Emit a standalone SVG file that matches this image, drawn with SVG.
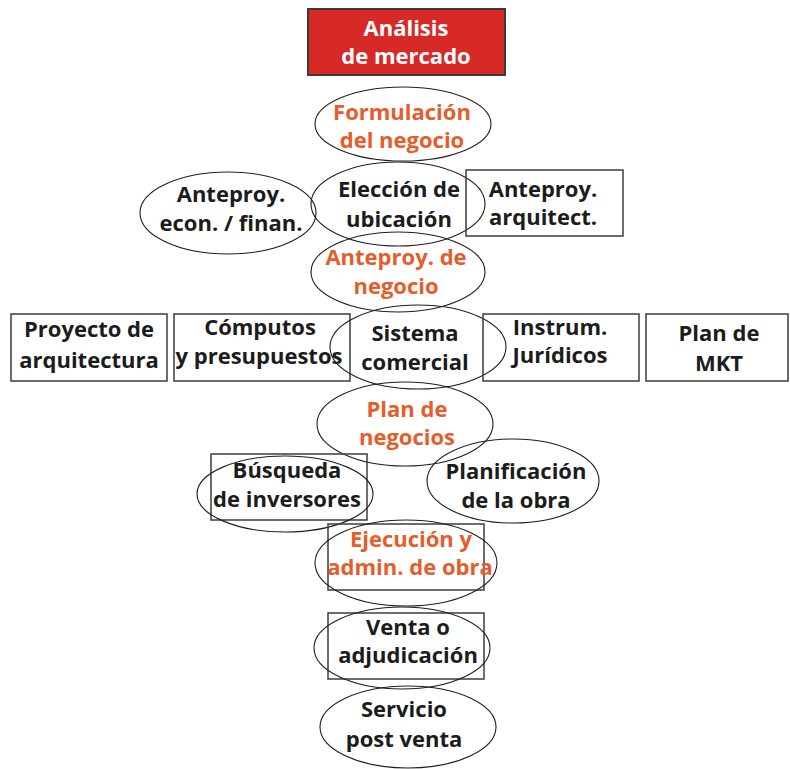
<svg xmlns="http://www.w3.org/2000/svg" width="790" height="769" viewBox="0 0 790 769">
  <style>
    text { font-family: "Open Sans", "Liberation Sans", "DejaVu Sans", sans-serif; font-weight: 700; font-size: 22px; text-anchor: middle; fill: #1c1c1c; }
    text.hl { fill: #e65c2a; }
    text.inv { fill: #ffffff; }
    .oval { fill: none; stroke: #1e1e1e; stroke-width: 1.1; }
    .box { fill: none; stroke: #3c3c3c; stroke-width: 1.5; }
  </style>
  <rect width="790" height="769" fill="#ffffff"/>

  <!-- top header -->
  <g id="analisis-mercado">
    <rect x="308" y="9" width="197" height="66" fill="#d72a27" stroke="#3a3a3a" stroke-width="2"/>
    <text class="inv" x="406" y="36">Análisis</text>
    <text class="inv" x="406" y="64">de mercado</text>
  </g>

  <g id="formulacion-negocio">
    <ellipse class="oval" cx="403" cy="124" rx="88" ry="37"/>
    <text class="hl" x="402" y="120">Formulación</text>
    <text class="hl" x="402" y="148">del negocio</text>
  </g>

  <g id="anteproy-econ-finan">
    <ellipse class="oval" cx="228" cy="213" rx="88" ry="41"/>
    <text x="231" y="202">Anteproy.</text>
    <text x="231" y="231">econ. / finan.</text>
  </g>

  <g id="eleccion-ubicacion">
    <ellipse class="oval" cx="398" cy="204" rx="87" ry="42"/>
    <text x="399" y="197">Elección de</text>
    <text x="399" y="227">ubicación</text>
  </g>

  <g id="anteproy-arquitect">
    <rect class="box" x="466" y="170" width="157" height="66"/>
    <text x="543" y="197">Anteproy.</text>
    <text x="543" y="225">arquitect.</text>
  </g>

  <g id="anteproy-negocio">
    <ellipse class="oval" cx="398" cy="272" rx="87" ry="40"/>
    <text class="hl" x="396" y="265">Anteproy. de</text>
    <text class="hl" x="396" y="294">negocio</text>
  </g>

  <!-- middle row -->
  <g id="proyecto-arquitectura">
    <rect class="box" x="11" y="314" width="156" height="67"/>
    <text x="89" y="337">Proyecto de</text>
    <text x="89" y="368">arquitectura</text>
  </g>

  <g id="computos-presupuestos">
    <rect class="box" x="174" y="314" width="176" height="67"/>
    <text x="260" y="335">Cómputos</text>
    <text x="259" y="364">y presupuestos</text>
  </g>

  <g id="sistema-comercial">
    <ellipse class="oval" cx="418" cy="347" rx="88" ry="42"/>
    <text x="415" y="341">Sistema</text>
    <text x="415" y="370">comercial</text>
  </g>

  <g id="instrum-juridicos">
    <rect class="box" x="483" y="314" width="156" height="67"/>
    <text x="560" y="335">Instrum.</text>
    <text x="560" y="363">Jurídicos</text>
  </g>

  <g id="plan-mkt">
    <rect class="box" x="646" y="314" width="142" height="67"/>
    <text x="719" y="341">Plan de</text>
    <text x="719" y="371">MKT</text>
  </g>

  <!-- lower chain -->
  <g id="plan-negocios">
    <ellipse class="oval" cx="405" cy="424" rx="88" ry="42"/>
    <text class="hl" x="407" y="417">Plan de</text>
    <text class="hl" x="407" y="445">negocios</text>
  </g>

  <g id="busqueda-inversores">
    <rect class="box" x="211" y="454" width="156" height="66"/>
    <ellipse class="oval" cx="285" cy="494" rx="88" ry="38"/>
    <text x="287" y="478">Búsqueda</text>
    <text x="287" y="507">de inversores</text>
  </g>

  <g id="planificacion-obra">
    <ellipse class="oval" cx="513" cy="481" rx="86" ry="42"/>
    <text x="516" y="479">Planificación</text>
    <text x="516" y="508">de la obra</text>
  </g>

  <g id="ejecucion-obra">
    <rect class="box" x="328" y="524" width="156" height="66"/>
    <ellipse class="oval" cx="406" cy="563" rx="91" ry="43"/>
    <text class="hl" x="411" y="547">Ejecución y</text>
    <text class="hl" x="410" y="575">admin. de obra</text>
  </g>

  <g id="venta-adjudicacion">
    <rect class="box" x="328" y="613" width="156" height="66"/>
    <ellipse class="oval" cx="402" cy="648" rx="88" ry="41"/>
    <text x="408" y="635">Venta o</text>
    <text x="408" y="663">adjudicación</text>
  </g>

  <g id="servicio-post-venta">
    <ellipse class="oval" cx="408" cy="727" rx="88" ry="41"/>
    <text x="404" y="717">Servicio</text>
    <text x="404" y="747">post venta</text>
  </g>
</svg>
